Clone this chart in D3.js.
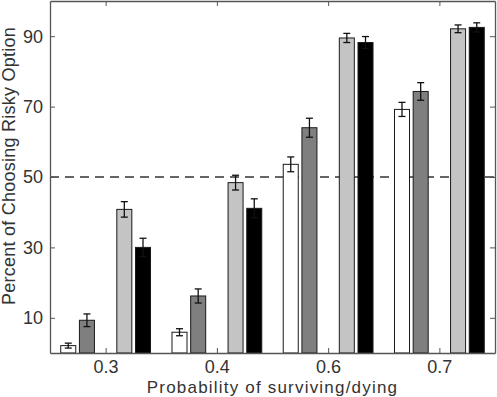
<!DOCTYPE html>
<html>
<head>
<meta charset="utf-8">
<script src="https://cdn.jsdelivr.net/npm/d3@7"></script>
<style>
    body { margin: 0; background: #fff; }
    svg { font-family: "Liberation Sans", Arial, sans-serif; }
</style>
</head>
<body>
<div id="canvas"></div>
<script>
const groups = ['0.3', '0.4', '0.6', '0.7'];
const series = ['A', 'B', 'C', 'D'];
const slots = [-2, -1, 1, 2];
const fills = ['#ffffff', '#7f7f7f', '#c4c4c4', '#000000'];
const values = [
    [2.1, 5.9, 53.6, 69.2],
    [9.3, 16.2, 64.0, 74.3],
    [40.8, 48.4, 89.5, 92.1],
    [30.0, 41.1, 88.2, 92.5]
];
const errors = [
    [0.7, 1.0, 2.1, 2.0],
    [1.8, 2.0, 2.7, 2.5],
    [2.2, 2.1, 1.3, 1.1],
    [2.6, 2.7, 1.7, 1.3]
];
const yTicks = [10, 30, 50, 70, 90];
const refLine = 50;

const W = 497, H = 397;
const m = { left: 50, right: 2, top: 1, bottom: 44 };
const pw = W - m.left - m.right;
const ph = H - m.top - m.bottom;

const svg = d3.select('#canvas').append('svg')
    .attr('width', W)
    .attr('height', H);

const g = svg.append('g').attr('transform', 'translate(' + m.left + ',' + m.top + ')');

const x = d3.scaleLinear().domain([0.5, groups.length + 0.5]).range([0, pw]);
const y = d3.scaleLinear().domain([0, 100]).range([ph, 0]);

const pitch = 0.168, bw = 0.135;

// dashed reference line
g.append('line')
    .attr('x1', 0).attr('x2', pw)
    .attr('y1', y(refLine)).attr('y2', y(refLine))
    .attr('stroke', '#333')
    .attr('stroke-width', 1.3)
    .attr('stroke-dasharray', '9,6');

series.forEach(function(s, si) {
    const bars = g.append('g');
    groups.forEach(function(grp, gi) {
        const cx = x(gi + 1 + slots[si] * pitch);
        const v = values[si][gi], e = errors[si][gi];
        const half = x(bw) - x(0);
        bars.append('rect')
            .attr('x', cx - half / 2)
            .attr('y', y(v))
            .attr('width', half)
            .attr('height', y(0) - y(v))
            .attr('fill', fills[si])
            .attr('stroke', '#1a1a1a')
            .attr('stroke-width', 1);
        const eb = bars.append('g').attr('stroke', '#111').attr('stroke-width', 1.3);
        eb.append('line').attr('x1', cx).attr('x2', cx).attr('y1', y(v - e)).attr('y2', y(v + e));
        eb.append('line').attr('x1', cx - 3.5).attr('x2', cx + 3.5).attr('y1', y(v - e)).attr('y2', y(v - e));
        eb.append('line').attr('x1', cx - 3.5).attr('x2', cx + 3.5).attr('y1', y(v + e)).attr('y2', y(v + e));
    });
});

const axisColor = '#555';
const tickVals = groups.map((d, i) => i + 1);

// axes with inward ticks
const xAxis = g.append('g').attr('transform', 'translate(0,' + ph + ')')
    .call(d3.axisBottom(x).tickValues(tickVals).tickFormat((d, i) => groups[i]).tickSizeInner(-5).tickSizeOuter(0));
const xTop = g.append('g')
    .call(d3.axisTop(x).tickValues(tickVals).tickFormat('').tickSizeInner(-5).tickSizeOuter(0));
const yAxis = g.append('g')
    .call(d3.axisLeft(y).tickValues(yTicks).tickSizeInner(-5).tickSizeOuter(0).tickPadding(7));
const yRight = g.append('g').attr('transform', 'translate(' + pw + ',0)')
    .call(d3.axisRight(y).tickValues(yTicks).tickFormat('').tickSizeInner(-5).tickSizeOuter(0));

[xAxis, xTop, yAxis, yRight].forEach(function(a) {
    a.selectAll('path').attr('stroke', axisColor).attr('stroke-width', 1.3);
    a.selectAll('line').attr('stroke', axisColor).attr('stroke-width', 1);
    a.selectAll('text').attr('fill', '#333').style('font-size', '18px');
});
xAxis.selectAll('text').attr('y', 20).attr('dy', 0);
yAxis.selectAll('text').attr('dy', '0.33em');

svg.append('text')
    .attr('x', m.left + pw / 2)
    .attr('y', 392.5)
    .attr('text-anchor', 'middle')
    .attr('fill', '#333')
    .style('font-size', '17px')
    .style('letter-spacing', '1.2px')
    .text('Probability of surviving/dying');

svg.append('text')
    .attr('transform', 'translate(15,166) rotate(-90)')
    .attr('text-anchor', 'middle')
    .attr('fill', '#333')
    .style('font-size', '18px')
    .style('letter-spacing', '0.25px')
    .text('Percent of Choosing Risky Option');
</script>
</body>
</html>
